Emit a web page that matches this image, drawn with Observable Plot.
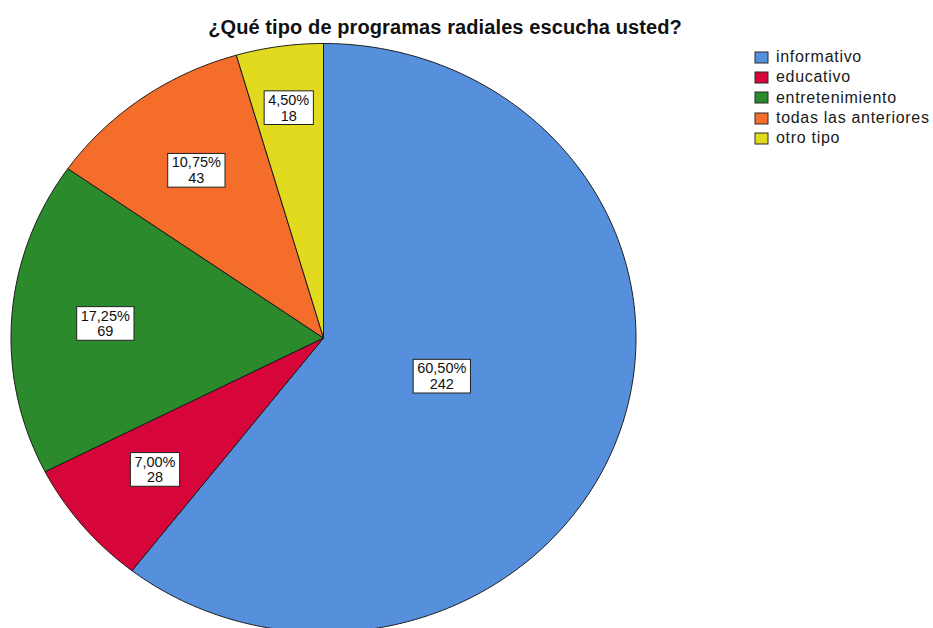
<!DOCTYPE html>
<html>
<head>
<meta charset="utf-8">
<script src="https://cdn.jsdelivr.net/npm/d3@7"></script>
<script src="https://cdn.jsdelivr.net/npm/@observablehq/plot@0.6"></script>
<style>
  body { margin: 0; background: #fff; font-family: "Liberation Sans", Arial, sans-serif; }
  #wrap { position: relative; width: 933px; height: 628px; overflow: hidden; background: #fff; }
  #chart { position: absolute; left: 0; top: 0; }
  #title { position: absolute; left: 0; width: 890px; top: 17px; text-align: center;
           font: bold 20px "Liberation Sans", Arial, sans-serif; line-height: 20px; color: #111; letter-spacing: 0.1px; }
  #legend { position: absolute; left: 755px; top: 47px; width: 185px; }
  #legend .lg-swatches { font: 16px "Liberation Sans", Arial, sans-serif; letter-spacing: 0.7px; color: #1a1a1a; margin: 0; }
  #legend .lg-swatch { height: 20.3px; padding: 0; margin: 0; }
  #legend .lg-swatch > svg { margin-right: 8px; }
  #legend .lg-swatch rect { stroke: #2a2a2a; stroke-width: 1; }
  #legend .lg-swatch-label { overflow: visible; }
</style>
</head>
<body>
<div id="wrap">
  <div id="chart"></div>
  <div id="title"></div>
  <div id="legend"></div>
</div>
<script>
// ---- data ----
const titleText = "¿Qué tipo de programas radiales escucha usted?";
const categories = ["informativo", "educativo", "entretenimiento", "todas las anteriores", "otro tipo"];
const counts = [242, 28, 69, 43, 18];
const colors = ["#5690DD", "#D6063A", "#2A8A2C", "#F46D2B", "#E2DA1E"];

// ---- derived geometry ----
const total = d3.sum(counts);
let acc = 0;
const slices = categories.map((c, i) => {
  const a0 = acc / total * 2 * Math.PI;
  acc += counts[i];
  const a1 = acc / total * 2 * Math.PI;
  return {category: c, count: counts[i], share: counts[i] / total, a0, a1};
});
const outline = slices.flatMap(s => {
  const n = Math.max(2, Math.ceil((s.a1 - s.a0) / (Math.PI / 360)));
  const pts = [{category: s.category, x: 0, y: 0}];
  for (let k = 0; k <= n; k++) {
    const a = s.a0 + (s.a1 - s.a0) * k / n;
    pts.push({category: s.category, x: Math.sin(a), y: Math.cos(a)});
  }
  pts.push({category: s.category, x: 0, y: 0});
  return pts;
});
const fmtPct = v => (v * 100).toFixed(2).replace(".", ",") + "%";
const labels = slices.map(s => {
  const m = (s.a0 + s.a1) / 2;
  const r = s.share > 0.5 ? 0.4 : (s.share < 0.05 ? 0.79 : 0.7);
  return {x: r * Math.sin(m), y: r * Math.cos(m), text: fmtPct(s.share) + "\n" + s.count};
});

const colorScale = {domain: categories, range: colors, type: "ordinal"};

const svg = Plot.plot({
  width: 933,
  height: 628,
  style: {background: "transparent", overflow: "visible"},
  x: {domain: [-1, 1], range: [10.5, 635.5], axis: null},
  y: {domain: [-1, 1], range: [632, 43], axis: null},
  color: colorScale,
  marks: [
    Plot.line(outline, {x: "x", y: "y", z: "category", fill: "category", stroke: "#1a1a1a", strokeWidth: 1, strokeLinejoin: "round"}),
    Plot.text(labels, {x: "x", y: "y", text: "text", fontSize: 14.5, lineHeight: 1.08, fill: "#111",
      fontFamily: "Liberation Sans, Arial, sans-serif", className: "slice-label"})
  ]
});
document.getElementById("chart").append(svg);
document.getElementById("title").textContent = titleText;

// white boxes behind slice labels
const g = svg.querySelector(".slice-label") || [...svg.querySelectorAll('g[aria-label="text"]')].pop();
g.querySelectorAll("text").forEach(t => {
  const b = t.getBBox();
  const r = document.createElementNS("http://www.w3.org/2000/svg", "rect");
  r.setAttribute("x", b.x - 4);
  r.setAttribute("y", b.y - 1);
  r.setAttribute("width", b.width + 8);
  r.setAttribute("height", b.height + 2);
  r.setAttribute("fill", "#fff");
  r.setAttribute("stroke", "#222");
  r.setAttribute("stroke-width", 1);
  if (t.getAttribute("transform")) r.setAttribute("transform", t.getAttribute("transform"));
  t.parentNode.insertBefore(r, t);
});

// legend
const leg = Plot.legend({color: colorScale, legend: "swatches", columns: 1, swatchWidth: 13, swatchHeight: 11, className: "lg"});
document.getElementById("legend").append(leg);
</script>
</body>
</html>
